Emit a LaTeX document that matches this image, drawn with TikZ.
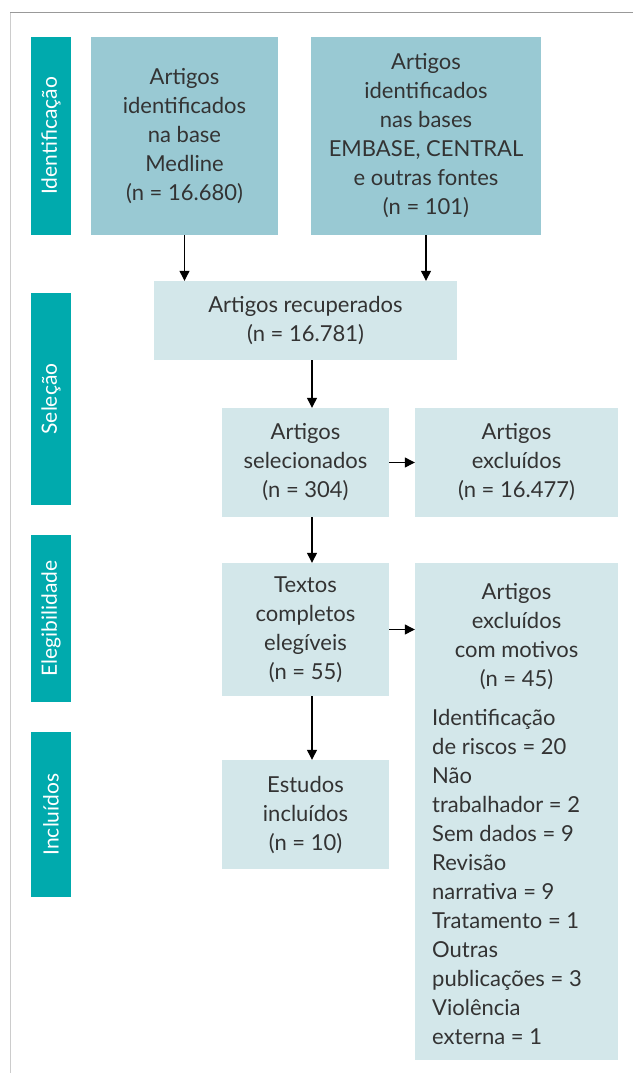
\documentclass[tikz,border=0pt]{standalone}
\usepackage{fontspec}
\setmainfont{Lato}
\usetikzlibrary{arrows.meta}
\definecolor{barra}{HTML}{00AAAD}
\definecolor{escuro}{HTML}{99C9D3}
\definecolor{claro}{HTML}{D3E7EA}
\definecolor{texto}{HTML}{333333}
\begin{document}
\begin{tikzpicture}[
    x=1pt, y=-1pt,
    box/.style={rectangle, inner sep=0pt, align=center, text=texto, font=\fontsize{22}{29}\selectfont},
    fase/.style={box, fill=barra, text=white, minimum height=40pt, rotate=90, font=\fontsize{21}{29}\selectfont},
    busca/.style={box, fill=escuro, minimum height=198pt},
    etapa/.style={box, fill=claro},
    seta/.style={-{Triangle[width=10pt,length=10pt]}, line width=1.2pt, black}
]
\useasboundingbox (0,0) rectangle (633,1073);

% moldura
\draw[gray!80, line width=1pt] (10,13) -- (633,13);
\draw[gray!40, line width=1pt] (10,13) -- (10,1073);

% Fases
\node[fase, minimum width=198pt] (ident) at (51,136) {Identificação};
\node[fase, minimum width=212pt] (selecao) at (51,399) {Seleção};
\node[fase, minimum width=167pt] (eleg) at (51,618.5) {Elegibilidade};
\node[fase, minimum width=165pt] (incl) at (51,814.5) {Incluídos};

% Identificacao
\node[busca, minimum width=187pt] (medline) at (184.5,136) {Artigos\\identificados\\na base\\Medline\\(n = 16.680)};
\node[busca, minimum width=230pt] (embase) at (426,136) {Artigos\\identificados\\nas bases\\EMBASE, CENTRAL\\e outras fontes\\(n = 101)};

% Selecao
\node[etapa, minimum width=303pt, minimum height=79pt] (recup) at (305.5,320.5) {Artigos recuperados\\(n = 16.781)};
\node[etapa, minimum width=167pt, minimum height=109pt] (selec) at (305.5,462.5) {Artigos\\selecionados\\(n = 304)};
\node[etapa, minimum width=203pt, minimum height=109pt] (excl) at (516.5,462.5) {Artigos\\excluídos\\(n = 16.477)};

% Elegibilidade
\node[etapa, minimum width=167pt, minimum height=133pt] (textos) at (305.5,629.5) {Textos\\completos\\elegíveis\\(n = 55)};
\node[etapa, minimum width=203pt, minimum height=497pt] (motivos) at (516.5,811.5) {};
\node[box] (motivostit) at (516.5,636.5) {Artigos\\excluídos\\com motivos\\(n = 45)};
\node[box, align=left, anchor=west] (motivoslista) at (432,876.5) {Identificação\\de riscos = 20\\Não\\trabalhador = 2\\Sem dados = 9\\Revisão\\narrativa = 9\\Tratamento = 1\\Outras\\publicações = 3\\Violência\\externa = 1};

% Incluidos
\node[etapa, minimum width=167pt, minimum height=109pt] (estudos) at (305.5,814.5) {Estudos\\incluídos\\(n = 10)};

% Setas
\draw[seta] (medline.south) -- (medline.south |- recup.north);
\draw[seta] (embase.south) -- (embase.south |- recup.north);
\draw[seta] ([xshift=6.5pt]recup.south) -- ([xshift=6.5pt]selec.north);
\draw[seta] (selec.east) -- (excl.west);
\draw[seta] ([xshift=6.5pt]selec.south) -- ([xshift=6.5pt]textos.north);
\draw[seta] (textos.east) -- (textos.east -| motivos.west);
\draw[seta] ([xshift=6.5pt]textos.south) -- ([xshift=6.5pt]estudos.north);

\end{tikzpicture}
\end{document}
